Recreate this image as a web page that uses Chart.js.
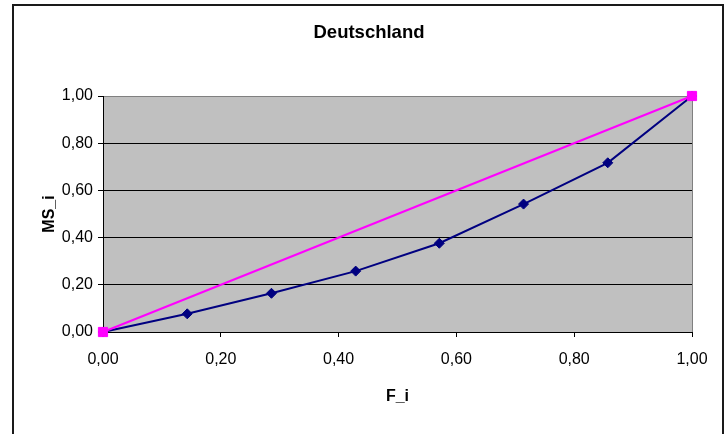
<!DOCTYPE html>
<html>
<head>
<meta charset="utf-8">
<style>
  html, body { margin: 0; padding: 0; background: #ffffff; }
  #wrap { width: 725px; height: 434px; position: relative; }
</style>
<script src="https://cdn.jsdelivr.net/npm/chart.js@4.4.1/dist/chart.umd.min.js"></script>
</head>
<body>
<div id="wrap"><canvas id="lorenz"></canvas></div>
<script>
// Lorenz curve of market shares: cumulative share of firms (F_i) vs. cumulative market share (MS_i)
const titleText = 'Deutschland';
const xTitle = 'F_i';
const yTitle = 'MS_i';

const cumFirms  = [0, 0.143, 0.286, 0.429, 0.571, 0.714, 0.857, 1.00];
const cumShares = [0, 0.077, 0.164, 0.258, 0.376, 0.542, 0.717, 1.00];

// line of perfect equality
const equalF  = [0, 1];
const equalMS = [0, 1];

const xTickValues = [0, 0.2, 0.4, 0.6, 0.8, 1.0];
const yTickValues = [0, 0.2, 0.4, 0.6, 0.8, 1.0];

const fmt = v => v.toFixed(2).replace('.', ',');
const toPoints = (xs, ys) => xs.map((x, i) => ({ x: x, y: ys[i] }));

const FONT = "'Liberation Sans', Arial, sans-serif";

// grey plot background plus the grey right edge of the plot area
const plotBackground = {
  id: 'plotBackground',
  beforeDraw(chart) {
    const { ctx, chartArea: a } = chart;
    ctx.save();
    ctx.fillStyle = '#c0c0c0';
    ctx.fillRect(a.left, a.top, a.right - a.left, a.bottom - a.top);
    ctx.strokeStyle = '#808080';
    ctx.lineWidth = 1;
    ctx.beginPath();
    ctx.moveTo(Math.round(a.right) + 0.5, a.top);
    ctx.lineTo(Math.round(a.right) + 0.5, a.bottom);
    ctx.stroke();
    ctx.restore();
  }
};

// frame around the whole chart
const chartFrame = {
  id: 'chartFrame',
  afterDraw(chart) {
    const { ctx } = chart;
    ctx.save();
    ctx.strokeStyle = '#1a1a1a';
    ctx.lineWidth = 2;
    ctx.strokeRect(13, 5, 710, 440);
    ctx.restore();
  }
};

new Chart(document.getElementById('lorenz'), {
  type: 'scatter',
  data: {
    datasets: [
      {
        label: 'Lorenzkurve',
        data: toPoints(cumFirms, cumShares),
        showLine: true,
        clip: false,
        borderColor: '#000080',
        backgroundColor: '#000080',
        borderWidth: 2,
        pointStyle: 'rectRot',
        pointRadius: 5,
        pointBorderWidth: 1,
        order: 1
      },
      {
        label: 'Gleichverteilung',
        data: toPoints(equalF, equalMS),
        showLine: true,
        clip: false,
        borderColor: '#ff00ff',
        backgroundColor: '#ff00ff',
        borderWidth: 2,
        pointStyle: 'rect',
        pointRadius: 6.5,
        pointBorderWidth: 1,
        order: 0
      }
    ]
  },
  options: {
    responsive: true,
    maintainAspectRatio: false,
    animation: false,
    layout: { padding: { left: 13, right: 0, top: 0, bottom: 0 } },
    plugins: {
      legend: { display: false },
      tooltip: { enabled: false },
      title: {
        display: true,
        text: titleText,
        color: '#000000',
        font: { family: FONT, size: 18.5, weight: 'bold', lineHeight: 1.2 },
        padding: { top: 22, bottom: 51.8 }
      }
    },
    scales: {
      x: {
        type: 'linear',
        min: 0,
        max: 1,
        afterBuildTicks: s => { s.ticks = xTickValues.map(v => ({ value: v })); },
        afterFit: s => { s.height = 102; },
        ticks: {
          color: '#000000',
          padding: 13,
          maxRotation: 0,
          font: { family: FONT, size: 16 },
          callback: v => fmt(v)
        },
        grid: {
          drawOnChartArea: false,
          drawTicks: true,
          tickLength: 5,
          tickColor: '#000000'
        },
        border: { display: true, color: '#000000', width: 1 },
        title: {
          display: true,
          text: xTitle,
          color: '#000000',
          font: { family: FONT, size: 16, weight: 'bold', lineHeight: 1.2 },
          padding: { top: 0, bottom: 28 }
        }
      },
      y: {
        type: 'linear',
        min: 0,
        max: 1,
        afterBuildTicks: s => { s.ticks = yTickValues.map(v => ({ value: v })); },
        afterFit: s => { s.width = 90; },
        ticks: {
          color: '#000000',
          padding: 5,
          font: { family: FONT, size: 16 },
          callback: v => fmt(v)
        },
        grid: {
          drawTicks: true,
          tickLength: 5,
          color: ctx => (ctx.tick && ctx.tick.value === 1 ? '#808080' : '#000000'),
          tickColor: '#000000',
          lineWidth: 1
        },
        border: { display: true, color: '#000000', width: 1 },
        title: {
          display: true,
          text: yTitle,
          color: '#000000',
          font: { family: FONT, size: 16, weight: 'bold', lineHeight: 1.2 },
          padding: { top: 27.4, bottom: 0 }
        }
      },
      // empty right-hand strip that keeps the plot area clear of the frame
      rightGap: {
        type: 'linear',
        position: 'right',
        display: true,
        afterFit: s => { s.width = 33; },
        ticks: { display: false },
        grid: { display: false, drawTicks: false },
        border: { display: false }
      }
    }
  },
  plugins: [plotBackground, chartFrame]
});
</script>
</body>
</html>
